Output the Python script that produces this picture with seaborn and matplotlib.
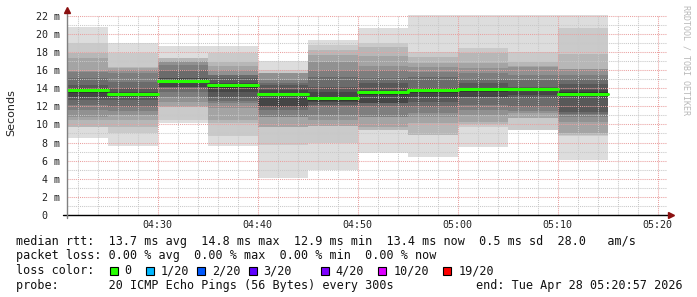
import numpy as np
import pandas as pd
import matplotlib
matplotlib.use("Agg")
import matplotlib.pyplot as plt
from matplotlib.patches import Rectangle
import seaborn as sns

# ---------------- data ----------------
slot_end = ["04:25", "04:30", "04:35", "04:40", "04:45", "04:50",
            "04:55", "05:00", "05:05", "05:10", "05:15"]
median_ms = [13.8, 13.4, 14.8, 14.3, 13.35, 12.9, 13.55, 13.8, 13.9, 13.95, 13.4]

# 20 sorted ping round-trip times (ms) per 5-minute step
pings_0425 = [8.45, 9.7, 9.74, 10.48, 10.85, 11.58, 12.1, 12.68, 13.05, 13.5,
              13.9, 13.97, 14.34, 15.08, 15.81, 15.85, 17.29, 17.84, 19.0, 20.8]
pings_0430 = [7.62, 9.01, 9.75, 10.48, 11.03, 11.5, 11.96, 12.7, 13.0, 13.2,
              13.5, 13.55, 13.98, 14.72, 15.64, 16.0, 16.2, 16.37, 17.84, 19.02]
pings_0435 = [10.12, 10.49, 11.89, 11.89, 12.51, 13.0, 13.62, 14.17, 14.17, 14.6,
              14.85, 15.08, 15.1, 16.0, 16.55, 16.92, 16.95, 17.29, 17.3, 18.7]
pings_0440 = [7.65, 8.7, 10.12, 10.49, 11.77, 12.33, 12.6, 13.06, 13.62, 14.0,
              14.5, 14.53, 15.08, 15.45, 15.5, 16.0, 16.5, 16.92, 17.84, 18.65]
pings_0445 = [4.05, 7.73, 9.75, 9.75, 10.85, 10.85, 11.59, 11.96, 11.96, 13.2,
              13.5, 13.8, 14.34, 14.6, 14.9, 15.63, 15.65, 15.7, 16.0, 16.95]
pings_0450 = [4.98, 7.92, 9.83, 9.83, 10.49, 11.05, 11.89, 12.15, 12.5, 12.63,
              12.9, 13.62, 14.17, 15.27, 16.0, 16.92, 17.66, 18.2, 18.76, 19.32]
pings_0455 = [6.8, 9.38, 9.4, 9.75, 10.85, 10.85, 11.89, 12.33, 12.35, 13.3,
              13.6, 13.8, 14.53, 15.08, 16.0, 16.4, 17.5, 18.5, 18.95, 20.6]
pings_0500 = [6.44, 8.83, 8.85, 10.12, 10.85, 11.3, 11.89, 12.5, 12.99, 13.5,
              13.85, 13.98, 14.0, 15.27, 15.8, 16.37, 16.75, 17.4, 18.03, 22.1]
pings_0505 = [7.54, 9.75, 10.0, 10.3, 11.03, 11.6, 12.14, 13.0, 13.06, 13.6,
              13.85, 13.98, 14.53, 15.0, 15.64, 16.19, 16.75, 17.84, 18.39, 22.1]
pings_0510 = [9.38, 9.4, 10.67, 10.7, 11.22, 11.5, 11.89, 12.88, 13.3, 13.7,
              13.9, 13.98, 14.17, 14.9, 15.45, 16.37, 16.5, 16.92, 18.03, 22.1]
pings_0515 = [6.1, 8.7, 8.8, 9.1, 10.3, 10.85, 11.2, 11.4, 12.9, 13.25,
              13.55, 13.8, 14.5, 15.0, 15.45, 16.1, 16.15, 17.8, 20.6, 22.1]

x_tick_labels = ["04:30", "04:40", "04:50", "05:00", "05:10", "05:20"]
y_tick_values = [0, 2, 4, 6, 8, 10, 12, 14, 16, 18, 20, 22]
y_tick_labels = ["0  ", "2 m", "4 m", "6 m", "8 m", "10 m", "12 m",
                 "14 m", "16 m", "18 m", "20 m", "22 m"]
window_start = "04:20:57"
window_end = "05:20:57"

loss_labels = ["0", "1/20", "2/20", "3/20", "4/20", "10/20", "19/20"]
loss_colors = ["#26ff00", "#00b8ff", "#0059ff", "#5e00ff", "#7e00ff", "#dd00ff", "#ff0000"]

legend_rtt = "median rtt:  13.7 ms avg  14.8 ms max  12.9 ms min  13.4 ms now  0.5 ms sd  28.0   am/s"
legend_loss = "packet loss: 0.00 % avg  0.00 % max  0.00 % min  0.00 % now"
legend_probe = "probe:       20 ICMP Echo Pings (56 Bytes) every 300s"
legend_end = "end: Tue Apr 28 05:20:57 2026"

# ---------------- helpers ----------------
def to_min(s):
    parts = [int(p) for p in s.split(":")]
    h, m = parts[0], parts[1]
    sec = parts[2] if len(parts) > 2 else 0
    return (h - 4) * 60 + m + sec / 60.0

pings = [pings_0425, pings_0430, pings_0435, pings_0440, pings_0445, pings_0450,
         pings_0455, pings_0500, pings_0505, pings_0510, pings_0515]
ends = np.array([to_min(s) for s in slot_end])
starts = ends - 5.0
x0, x1 = to_min(window_start), to_min(window_end)

W, H = 697, 297
PX_PER_MS = 9.06
YMAX = 22.12

sns.set_style("white")
plt.rcParams['font.family'] = ['DejaVu Sans Mono', 'DejaVu Sans']

fig = plt.figure(figsize=(W / 100, H / 100), dpi=100)
ax = fig.add_axes([67 / W, 82 / H, 600 / W, YMAX * PX_PER_MS / H])
ax.set_xlim(x0, x1)
ax.set_ylim(0, YMAX)

# ---------------- smoke bands (smokeping style) ----------------
n = 20
half = n // 2
for i in range(1, half + 1):
    g = int(190 / half * (half - i)) + 50
    col = "#%02x%02x%02x" % (g, g, g)
    lo = np.array([p[i - 1] for p in pings])
    hi = np.array([p[n - i] for p in pings])
    ax.bar(starts, hi - lo, bottom=lo, width=5.0, align="edge",
           color=col, linewidth=0, zorder=1)

# ---------------- median line ----------------
rows = []
for k, (s, e, m) in enumerate(zip(starts, ends, median_ms)):
    rows.append({"t": s, "ms": m, "seg": k})
    rows.append({"t": e, "ms": m, "seg": k})
df_med = pd.DataFrame(rows)
sns.lineplot(data=df_med, x="t", y="ms", units="seg", estimator=None, sort=False,
             color="#26ff00", linewidth=2.2, ax=ax, legend=False, zorder=4)

# ---------------- grid / ticks ----------------
ax.set_xticks([to_min(s) for s in x_tick_labels])
ax.set_xticklabels(x_tick_labels)
ax.set_xticks(np.arange(22, 81, 2), minor=True)
ax.set_yticks(y_tick_values)
ax.set_yticklabels(y_tick_labels)
ax.set_yticks(np.arange(0, 23, 1), minor=True)
ax.set_axisbelow(False)
ax.grid(which="minor", color="#c8c8c8", linestyle=(0, (1, 1)), linewidth=0.75)
ax.grid(which="major", color="#eaa0a0", linestyle=(0, (1, 1)), linewidth=0.75)
ax.tick_params(which="both", length=0)
ax.tick_params(axis="x", pad=3.3, labelsize=7.2, labelcolor="#222222")
ax.tick_params(axis="y", pad=5.0, labelsize=7.2, labelcolor="#222222")
ax.set_xlabel("")
ax.set_ylabel("")
for sp in ax.spines.values():
    sp.set_visible(False)

# axes lines with arrows
ax.plot([x0 - 0.4, x1 + 0.3], [0, 0], color="black", lw=1.0, clip_on=False, zorder=5)
ax.plot([x0, x0], [-0.35, YMAX + 0.6], color="#808080", lw=1.0, clip_on=False, zorder=5)
ax.plot([x1 + 0.35], [0], marker=">", markersize=5, color="#8b1010", clip_on=False, zorder=6)
ax.plot([x0], [YMAX + 0.55], marker="^", markersize=5, color="#8b1010", clip_on=False, zorder=6)

# ---------------- texts ----------------
fig.text(11 / W, 1 - 113 / H, "Seconds", rotation=90, ha="center", va="center",
         fontsize=8, family="DejaVu Sans", color="#222222")
fig.text(686 / W, 1 - 5 / H, "RRDTOOL / TOBI OETIKER", rotation=270, ha="center",
         va="top", fontsize=6, color="#b8b8b8")

FS = 8.5
fig.text(16 / W, 1 - 241 / H, legend_rtt, fontsize=FS, va="center", ha="left", color="#111111")
fig.text(16 / W, 1 - 256 / H, legend_loss, fontsize=FS, va="center", ha="left", color="#111111")
fig.text(16 / W, 1 - 270.5 / H, "loss color:", fontsize=FS, va="center", ha="left", color="#111111")
box_x = [110, 146, 197, 249, 321, 378, 443]
lab_x = [124, 161, 212, 263, 335, 394, 459]
for bx, lx, lab, c in zip(box_x, lab_x, loss_labels, loss_colors):
    fig.add_artist(Rectangle((bx / W, (H - 274.5) / H), 8 / W, 8 / H,
                             transform=fig.transFigure, facecolor=c,
                             edgecolor="black", linewidth=0.8))
    fig.text(lx / W, 1 - 270.5 / H, lab, fontsize=FS, va="center", ha="left", color="#111111")
fig.text(16 / W, 1 - 285 / H, legend_probe, fontsize=FS, va="center", ha="left", color="#111111")
fig.text(683 / W, 1 - 285 / H, legend_end, fontsize=FS, va="center", ha="right", color="#111111")

fig.savefig("out.png", dpi=100)
